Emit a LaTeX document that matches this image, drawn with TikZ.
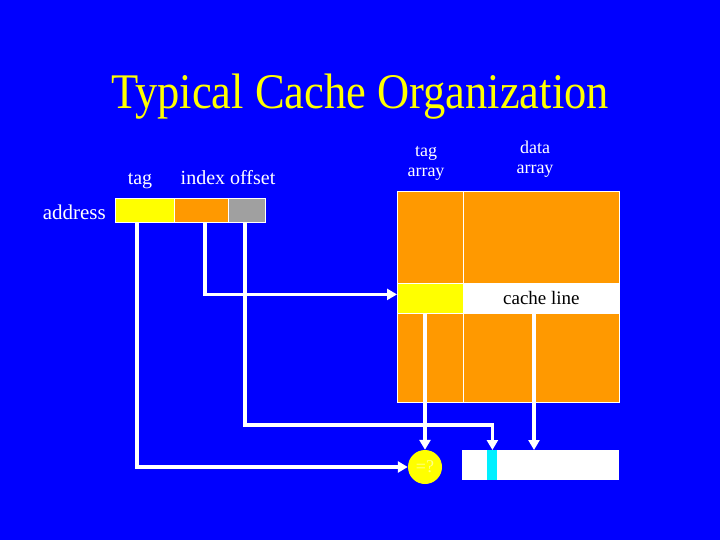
\documentclass[tikz,border=0pt]{standalone}
\usepackage{fontspec}
\setmainfont{Liberation Serif}
\usetikzlibrary{arrows.meta}

\definecolor{slideblue}{RGB}{0,0,255}
\definecolor{cacheorange}{RGB}{255,153,0}
\definecolor{tagyellow}{RGB}{255,255,0}
\definecolor{offsetgray}{RGB}{160,160,160}
\definecolor{hitcyan}{RGB}{0,240,255}

\begin{document}
\begin{tikzpicture}[x=1pt, y=-1pt,
    field/.style={draw=white, line width=0.8pt, inner sep=0pt, anchor=north west},
    wire/.style={white, line width=3.5pt, -{Triangle[length=10pt,width=11pt]}},
    label/.style={white, inner sep=0pt, font=\fontsize{20}{22}\selectfont}]
% Slide background
\fill[slideblue] (0,0) rectangle (720,540);
\useasboundingbox (0,0) rectangle (720,540);

% Title
\node[tagyellow, anchor=base, font=\fontsize{44.5}{50}\selectfont] (title) at (360,109) {\scalebox{1}[1.12]{Typical Cache Organization}};

% Address fields
\node[label, anchor=base] (taglabel) at (140,185) {tag};
\node[label, anchor=base] (indexlabel) at (228,185) {index offset};
\node[label, anchor=base east, font=\fontsize{21}{23}\selectfont] (addrlabel) at (106,219) {address};
\node[field, fill=tagyellow, minimum width=59pt, minimum height=24pt] (tagfield) at (115,198) {};
\node[field, fill=cacheorange, minimum width=54pt, minimum height=24pt] (indexfield) at (174,198) {};
\node[field, fill=offsetgray, minimum width=37pt, minimum height=24pt] (offsetfield) at (228,198) {};

% Tag and data arrays
\node[label, align=center, font=\fontsize{18}{20}\selectfont] (tagarraylabel) at (426,163) {tag\\array};
\node[label, align=center, font=\fontsize{18}{20}\selectfont] (dataarraylabel) at (535,159) {data\\array};
\node[field, fill=cacheorange, minimum width=66pt, minimum height=92pt] (tagtop) at (397,191) {};
\node[field, fill=cacheorange, minimum width=156pt, minimum height=92pt] (datatop) at (463,191) {};
\node[field, fill=tagyellow, minimum width=66pt, minimum height=30pt] (tagline) at (397,283) {};
\node[field, fill=white, minimum width=156pt, minimum height=30pt, font=\fontsize{19}{21}\selectfont] (dataline) at (463,283) {cache line};
\node[field, fill=cacheorange, minimum width=66pt, minimum height=89pt] (tagbot) at (397,313) {};
\node[field, fill=cacheorange, minimum width=156pt, minimum height=89pt] (databot) at (463,313) {};

% Compare and select
\node[circle, fill=tagyellow, minimum size=34pt, inner sep=0pt, text=tagyellow!45!white, font=\fontsize{18}{18}\selectfont] (cmp) at (425,467) {=?};
\node[field, draw=none, fill=white, minimum width=157pt, minimum height=30pt] (outbox) at (462,450) {};
\node[field, draw=none, fill=hitcyan, minimum width=10pt, minimum height=30pt] (hitbar) at (487,450) {};

% Wires
\draw[wire] (tagfield.south west) ++(22,0) |- (cmp.west);
\draw[wire] (indexfield.south west) ++(31,0) |- ([yshift=4pt]tagline.west);
\draw[wire] (offsetfield.south west) ++(17,0) |- ([yshift=25pt]hitbar.north) -- (hitbar.north);
\draw[wire] (cmp.north |- tagline.south) -- (cmp.north);
\draw[wire] (dataline.south west) ++(71,0) coordinate (datatap) -- (datatap |- outbox.north);

\end{tikzpicture}
\end{document}
